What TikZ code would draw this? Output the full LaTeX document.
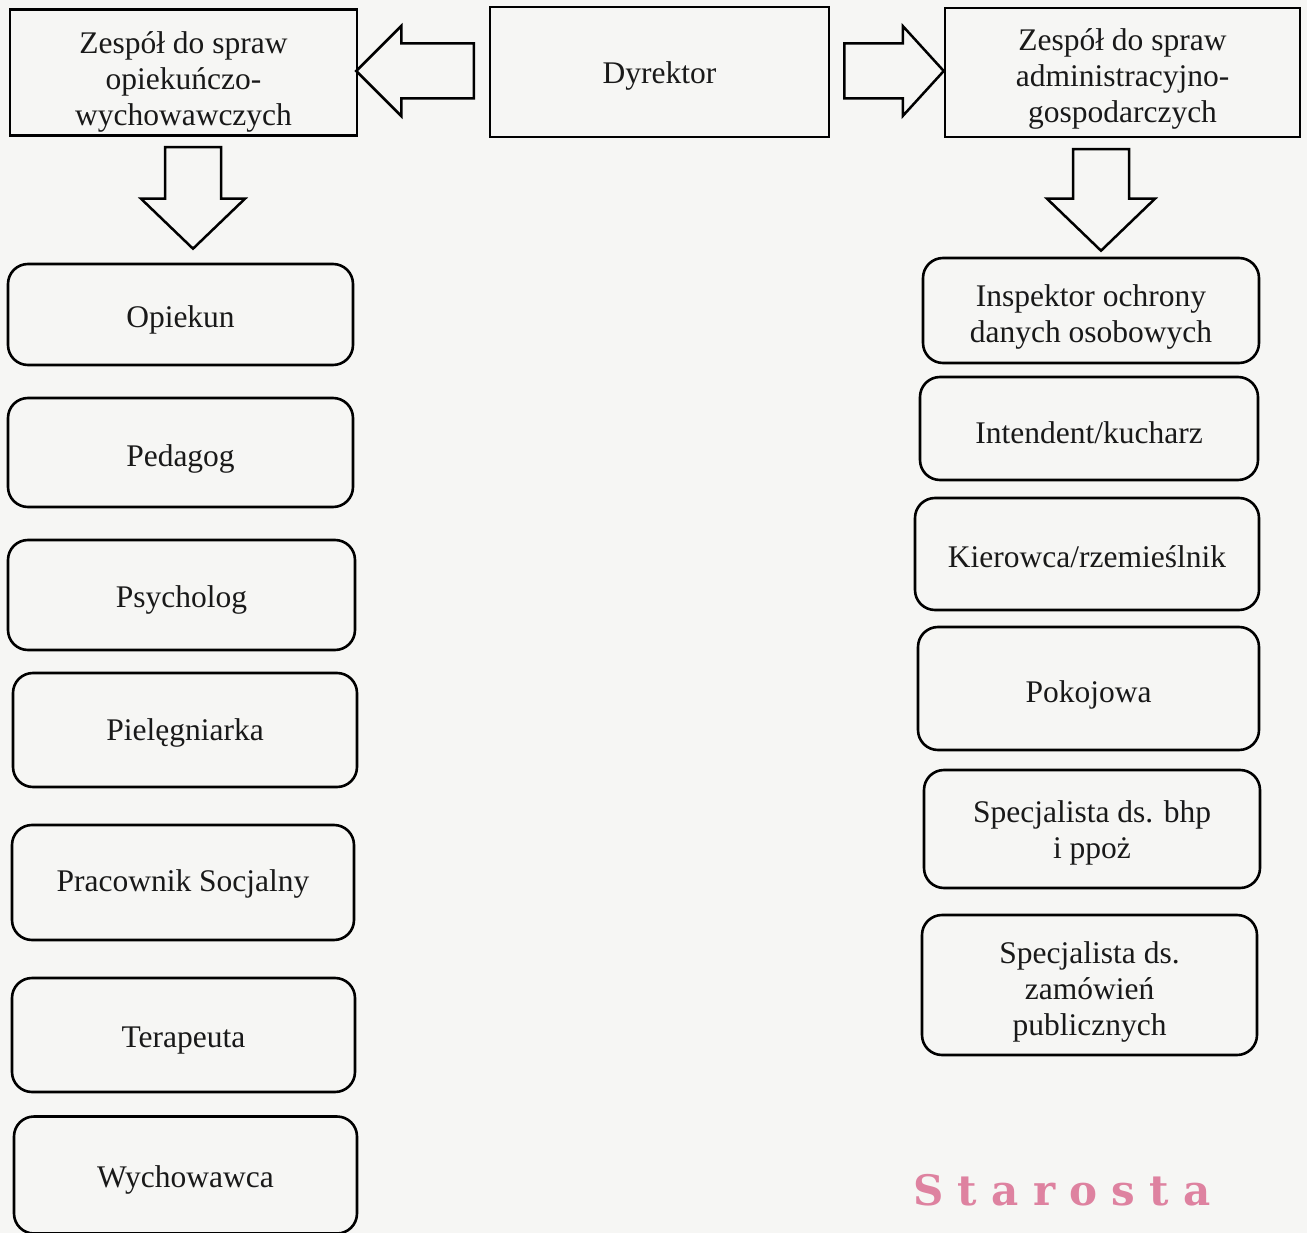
\documentclass[tikz,border=0pt]{standalone}
\usepackage{fontspec}
\setmainfont{Liberation Serif}
\newfontfamily\stampfont[LetterSpace=34]{DejaVu Serif}
\usetikzlibrary{calc}
\definecolor{paper}{RGB}{246,246,244}
\definecolor{stamp}{RGB}{222,130,160}
\tikzset{
  txt/.style={font=\fontsize{31.5}{36}\selectfont, inner sep=0pt, text=black!90},
  sqbox/.style={txt, draw, line width=2.5pt, rectangle},
  rbox/.style={txt, draw, line width=2.6pt, rectangle, rounded corners=20pt},
  blockarr/.style={draw, line width=2.5pt, fill=paper, line join=miter},
}
% shifted, centred text lines inside a node
\newcommand{\tl}[2]{\raisebox{#1}[\height][\depth]{\begin{tabular}{@{}c@{}}#2\end{tabular}}}
\newcommand{\blockH}[5]{\draw[blockarr] let \p1=(#1),\p2=(#2),\n1={sign(\x2-\x1)*#5} in
  (\x1,\y1+#3) -- (\x2-\n1,\y1+#3) -- (\x2-\n1,\y1+#4) -- (\x2,\y2) -- (\x2-\n1,\y1-#4) -- (\x2-\n1,\y1-#3) -- (\x1,\y1-#3) -- cycle;}
\newcommand{\blockV}[5]{\draw[blockarr] let \p1=(#1),\p2=(#2),\n1={sign(\y1-\y2)*#5} in
  (\x1-#3,\y1) -- (\x1-#3,\y2+\n1) -- (\x2-#4,\y2+\n1) -- (\x2,\y2) -- (\x2+#4,\y2+\n1) -- (\x1+#3,\y2+\n1) -- (\x1+#3,\y1) -- cycle;}
\begin{document}
\begin{tikzpicture}[x=1pt,y=-1pt]
\fill[paper] (0,0) rectangle (1307,1233);
\useasboundingbox (0,0) rectangle (1307,1233);

% top row
\node[sqbox, minimum width=347pt, minimum height=126pt] (zl) at (183.5,72.5) {\tl{-10pt}{Zespół do spraw\\opiekuńczo-\\wychowawczych}};
\node[sqbox, minimum width=339pt, minimum height=130pt] (dyr) at (659.5,72) {\tl{-4pt}{Dyrektor}};
\node[sqbox, minimum width=355pt, minimum height=129pt] (zr) at (1122.5,72.5) {\tl{-7pt}{Zespół do spraw\\administracyjno-\\gospodarczych}};

% left column
\node[rbox, minimum width=345pt, minimum height=101pt] (op) at (180.5,314.5) {\tl{-6pt}{Opiekun}};
\node[rbox, minimum width=345pt, minimum height=109pt] (ped) at (180.5,452.5) {\tl{-7pt}{Pedagog}};
\node[rbox, minimum width=347pt, minimum height=110pt] (psy) at (181.5,595) {\tl{-5pt}{Psycholog}};
\node[rbox, minimum width=344pt, minimum height=114pt] (piel) at (185,730) {\tl{-3pt}{Pielęgniarka}};
\node[rbox, minimum width=342pt, minimum height=115pt] (prac) at (183,882.5) {\tl{-2pt}{Pracownik Socjalny}};
\node[rbox, minimum width=343pt, minimum height=114pt] (ter) at (183.5,1035) {\tl{-5pt}{Terapeuta}};
\node[rbox, minimum width=343pt, minimum height=117pt] (wych) at (185.5,1175) {\tl{-5pt}{Wychowawca}};

% right column
\node[rbox, minimum width=336pt, minimum height=105pt] (insp) at (1091,310.5) {\tl{-7pt}{Inspektor ochrony\\danych osobowych}};
\node[rbox, minimum width=338pt, minimum height=103pt] (int) at (1089,428.5) {\tl{-8pt}{Intendent/kucharz}};
\node[rbox, minimum width=344pt, minimum height=112pt] (kier) at (1087,554) {\tl{-6pt}{Kierowca/rzemieślnik}};
\node[rbox, minimum width=341pt, minimum height=123pt] (pok) at (1088.5,688.5) {\tl{-7pt}{Pokojowa}};
\node[rbox, minimum width=336pt, minimum height=118pt] (bhp) at (1092,829) {\tl{-4pt}{Specjalista ds. bhp\\i ppoż}};
\node[rbox, minimum width=335pt, minimum height=140pt] (zam) at (1089.5,985) {\tl{-7pt}{Specjalista ds.\\zamówień\\publicznych}};

% block arrows
\coordinate (t1) at ($(dyr.west)+(-15,-1)$);
\coordinate (p1) at ($(zl.east)+(-2,-1.5)$);
\coordinate (t2) at ($(dyr.east)+(14,-1)$);
\coordinate (p2) at ($(zr.west)+(0,-1.5)$);
\coordinate (t3) at ($(zl.south)+(9.5,10.5)$);
\coordinate (p3) at ($(op.north)+(12.5,-14)$);
\coordinate (t4) at ($(zr.south)+(-21.5,11)$);
\coordinate (p4) at ($(insp.north)+(10,-6)$);
\blockH{t1}{p1}{27.5pt}{45pt}{45pt}
\blockH{t2}{p2}{27.5pt}{45pt}{41pt}
\blockV{t3}{p3}{28pt}{52pt}{50pt}
\blockV{t4}{p4}{28pt}{54pt}{52pt}

% stamp
\node[text=stamp, font=\stampfont\bfseries\fontsize{42}{44}\selectfont, inner sep=0pt] (star) at (1062,1190) {Starosta};
\end{tikzpicture}
\end{document}
